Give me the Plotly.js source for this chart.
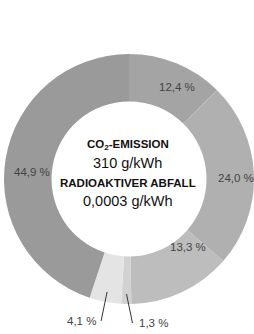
<!DOCTYPE html>
<html>
<head>
<meta charset="utf-8">
<script src="https://cdn.plot.ly/plotly-3.0.1.min.js"></script>
<style>html,body{margin:0;padding:0;background:#fff;}#chart{width:254px;height:334px;}</style>
</head>
<body>
<div id="chart"></div>
<script>
// Data (percent shares, clockwise from 12 o'clock)
const categories = ['A', 'B', 'C', 'D', 'E', 'F'];
const shares = [12.4, 24.0, 13.3, 1.3, 4.1, 44.9];
const sliceColors = ['#a4a4a4', '#b0b0b0', '#bdbdbd', '#d2d2d2', '#e4e4e4', '#9a9a9a'];
const insideLabel = [true, true, true, false, false, true];
const centerLines = ['CO<sub>2</sub>-EMISSION', '310 g/kWh', 'RADIOAKTIVER ABFALL', '0,0003 g/kWh'];

const fmt = v => v.toFixed(1).replace('.', ',') + ' %';
const labels = shares.map(fmt);

const total = shares.reduce((a, b) => a + b, 0);
const annotations = [];
const FONT = 'Liberation Sans, Arial, sans-serif';

// center texts
const centerY = [0.638, 0.564, 0.484, 0.412];
const centerBold = [true, false, true, false];
centerLines.forEach((t, i) => {
  annotations.push({
    xref: 'paper', yref: 'paper', x: 0.494, y: centerY[i],
    xanchor: 'center', yanchor: 'middle',
    text: centerBold[i] ? '<b>' + t + '</b>' : t,
    showarrow: false,
    font: {family: FONT, size: centerBold[i] ? 11.5 : 14.5, color: '#111'}
  });
});

// slice labels, positioned from the slice angles
let cum = 0;
const angleNudge = [5, 1.5, -16, 0, 0, -5];      // degrees, label placement tweak
const radiusIn = [0.83, 0.86, 0.72, 0, 0, 0.78];
const tailOffsets = {3: {ax: 6, ay: 29, anchor: 'left', pad: 6}, 4: {ax: -6, ay: 29, anchor: 'right', pad: 4}};
shares.forEach((v, i) => {
  const midDeg = (cum + v / 2) / total * 360;
  cum += v;
  if (insideLabel[i]) {
    const a = (midDeg + angleNudge[i]) * Math.PI / 180;
    const r = radiusIn[i] / 2;
    annotations.push({
      xref: 'paper', yref: 'paper',
      x: 0.5 + r * Math.sin(a), y: 0.5 + r * Math.cos(a),
      xanchor: 'center', yanchor: 'middle',
      text: labels[i], showarrow: false,
      font: {family: FONT, size: 11.5, color: '#444'}
    });
  } else {
    const a = midDeg * Math.PI / 180;
    const r = 0.46;
    const o = tailOffsets[i];
    annotations.push({
      xref: 'paper', yref: 'paper',
      x: 0.5 + r * Math.sin(a), y: 0.5 + r * Math.cos(a),
      ax: o.ax, ay: o.ay, xanchor: o.anchor, yanchor: 'middle',
      text: labels[i], showarrow: true, arrowhead: 0, arrowwidth: 1, arrowcolor: '#333',
      standoff: 0, borderpad: o.pad,
      font: {family: FONT, size: 11.5, color: '#444'}
    });
  }
});

const trace = {
  type: 'pie',
  labels: categories,
  values: shares,
  textinfo: 'none',
  hole: 0.62,
  sort: false,
  direction: 'clockwise',
  rotation: 0,
  marker: {colors: sliceColors, line: {width: 0}},
  hoverinfo: 'none',
  domain: {x: [0, 1], y: [0, 1]}
};

const layout = {
  width: 254, height: 334,
  margin: {l: 4, r: 0, t: 54, b: 30},
  paper_bgcolor: '#fff',
  plot_bgcolor: '#fff',
  showlegend: false,
  annotations: annotations
};

Plotly.newPlot('chart', [trace], layout, {displayModeBar: false, staticPlot: true});
</script>
</body>
</html>
